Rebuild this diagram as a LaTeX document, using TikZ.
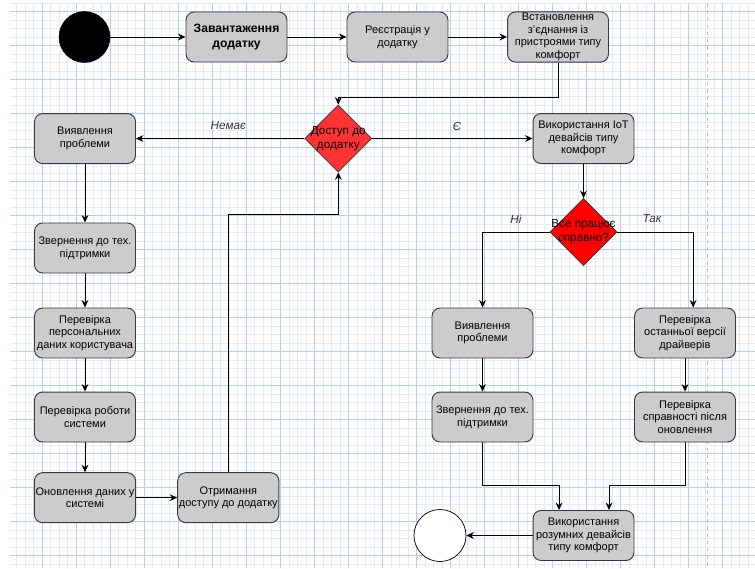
\documentclass[tikz,border=0pt]{standalone}
\usepackage{fontspec}
\setmainfont{Liberation Sans}
\usetikzlibrary{shapes.geometric,arrows.meta}
\pgfdeclarelayer{gridlayer}
\pgfdeclarelayer{edgelayer}
\pgfdeclarelayer{nodelayer}
\pgfsetlayers{gridlayer,edgelayer,nodelayer,main}
\definecolor{boxfill}{RGB}{204,204,204}
\definecolor{boxline}{RGB}{54,57,61}
\definecolor{decfill}{RGB}{255,51,51}
\definecolor{decred}{RGB}{255,0,0}
\definecolor{gridminor}{RGB}{226,235,246}
\definecolor{gridmajor}{RGB}{182,208,233}
\tikzset{font=\fontsize{9.2}{10.6}\selectfont}
\tikzstyle{none}=[inner sep=0pt]
\tikzstyle{action}=[rectangle,rounded corners=0.24cm,draw=boxline,fill=boxfill,line width=0.8pt,minimum width=2.97cm,minimum height=1.47cm,align=center,inner sep=1pt]
\tikzstyle{decision}=[diamond,draw=black!80,fill=decfill,line width=0.6pt,minimum width=1.97cm,minimum height=1.97cm,inner sep=0pt]
\tikzstyle{startdot}=[circle,fill=black,draw,minimum size=1.5cm,inner sep=0pt]
\tikzstyle{enddot}=[circle,fill=white,draw,line width=0.6pt,minimum size=1.53cm,inner sep=0pt]
\tikzstyle{flow}=[draw=black,line width=0.8pt,-{Stealth[length=0.22cm,width=0.2cm]}]
\tikzstyle{guard}=[font=\fontsize{9.8}{11}\selectfont\itshape,text=black!80]
\tikzstyle{dectext}=[align=center,font=\fontsize{9.8}{11.5}\selectfont]

\begin{document}
\begin{tikzpicture}
	\useasboundingbox (0,0) rectangle (22.206,-16.706);
	\begin{pgfonlayer}{gridlayer}
		\foreach \i in {-3,...,83}
			\draw[gridminor,line width=0.5pt] (1.244+0.25*\i,-0.088) -- (1.244+0.25*\i,-16.706);
		\foreach \i in {-1,...,65}
			\draw[gridminor,line width=0.5pt] (0.294,-0.344-0.25*\i) -- (22.206,-0.344-0.25*\i);
		\foreach \i in {0,...,20}
			\draw[gridmajor,line width=0.6pt] (1.244+\i,-0.088) -- (1.244+\i,-16.706);
		\foreach \i in {0,...,16}
			\draw[gridmajor,line width=0.6pt] (0.294,-0.344-\i) -- (22.206,-0.344-\i);
		\draw[black!25,dashed,line width=0.6pt] (20.794,-0.088) -- (20.794,-16.706);
	\end{pgfonlayer}
	\begin{pgfonlayer}{nodelayer}
		\node [style=startdot] (start) at (2.485, -1.088) {};
		\node [style=action, font=\fontsize{10.2}{12.2}\selectfont\bfseries] (1) at (6.956, -1.088) {Завантаження\\додатку};
		\node [style=action] (2) at (11.691, -1.088) {Реєстрація у\\додатку};
		\node [style=action] (3) at (16.412, -1.088) {Встановлення\\з’єднання із\\пристроями типу\\комфорт};
		\node [style=decision, label={[dectext]center:{Доступ до\\додатку}}] (d1) at (9.950, -4.074) {};
		\node [style=action] (4) at (2.500, -4.074) {Виявлення\\проблеми};
		\node [style=action] (5) at (17.162, -4.074) {Використання IoT\\девайсів типу\\комфорт};
		\node [style=decision, fill=decred, label={[dectext]center:{Все працює\\справно?}}] (d2) at (17.162, -6.824) {};
		\node [style=action] (6) at (2.500, -7.294) {Звернення до тех.\\підтримки};
		\node [style=action] (7) at (2.500, -9.794) {Перевірка\\персональних\\даних користувача};
		\node [style=action] (8) at (2.500, -12.265) {Перевірка роботи\\системи};
		\node [style=action] (9) at (2.500, -14.638) {Оновлення даних у\\системі};
		\node [style=action] (10) at (6.715, -14.638) {Отримання\\доступу до додатку};
		\node [style=action] (11) at (14.191, -9.794) {Виявлення\\проблеми};
		\node [style=action] (12) at (20.147, -9.794) {Перевірка\\останньої версії\\драйверів};
		\node [style=action] (13) at (14.191, -12.265) {Звернення до тех.\\підтримки};
		\node [style=action] (14) at (20.147, -12.265) {Перевірка\\справності після\\оновлення};
		\node [style=action] (15) at (17.162, -15.750) {Використання\\розумних девайсів\\типу комфорт};
		\node [style=enddot] (end) at (12.941, -15.750) {};
		\node [style=guard] (no1) at (6.715, -3.706) {Немає};
		\node [style=guard] (yes1) at (13.441, -3.706) {Є};
		\node [style=guard] (no2) at (15.176, -6.441) {Ні};
		\node [style=guard] (yes2) at (19.176, -6.441) {Так};
		\coordinate (b1) at (9.950, -2.853);
		\coordinate (b2) at (9.950, -6.303);
		\coordinate (b3) at (16.441, -14.265);
		\coordinate (b4) at (17.912, -14.265);
	\end{pgfonlayer}
	\begin{pgfonlayer}{edgelayer}
		\draw [style=flow] (start) to (1);
		\draw [style=flow] (1) to (2);
		\draw [style=flow] (2) to (3);
		\draw [style=flow] (3.south) |- (b1) to (d1.north);
		\draw [style=flow] (d1.west) to (4.east);
		\draw [style=flow] (d1.east) to (5.west);
		\draw [style=flow] (5) to (d2);
		\draw [style=flow] (d2.west) -| (11.north);
		\draw [style=flow] (d2.east) -| ([xshift=0.24cm]12.north);
		\draw [style=flow] (4) to (6);
		\draw [style=flow] (6) to (7);
		\draw [style=flow] (7) to (8);
		\draw [style=flow] (8) to (9);
		\draw [style=flow] (9) to (10);
		\draw [style=flow] (10.north) |- (b2) to (d1.south);
		\draw [style=flow] (11) to (13);
		\draw [style=flow] (12) to (14);
		\draw [style=flow] (13.south) |- (b3) to (b3 |- 15.north);
		\draw [style=flow] (14.south) |- (b4) to (b4 |- 15.north);
		\draw [style=flow] (15.west) to (end.east);
	\end{pgfonlayer}
\end{tikzpicture}
\end{document}
